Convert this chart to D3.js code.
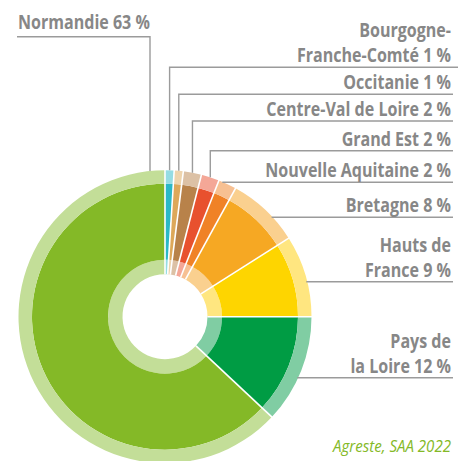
<!DOCTYPE html>
<html><head><meta charset="utf-8">
<script src="https://cdn.jsdelivr.net/npm/d3@7"></script>
<style>
html,body{margin:0;padding:0;background:#fff;}
svg{display:block;}
.lbl{font-family:"Open Sans","DejaVu Sans Condensed",sans-serif;font-weight:700;fill:#878787;font-size:19px;}
.src{font-family:"Open Sans","DejaVu Sans Condensed",sans-serif;font-style:italic;fill:#84b927;font-size:16.5px;}
</style></head>
<body>
<script>
// ---- data ----
const regions = ["Bourgogne-Franche-Comté","Occitanie","Centre-Val de Loire","Grand Est","Nouvelle Aquitaine","Bretagne","Hauts de France","Pays de la Loire","Normandie"];
const shares = [1,1,2,2,2,8,9,12,63];
const labelLines = [["Bourgogne-","Franche-Comté 1 %"],["Occitanie 1 %"],["Centre-Val de Loire 2 %"],["Grand Est 2 %"],["Nouvelle Aquitaine 2 %"],["Bretagne 8 %"],["Hauts de","France 9 %"],["Pays de","la Loire 12 %"],["Normandie 63 %"]];
const darkColors = ["#2bb8c6","#dda85a","#b8824a","#e8512e","#f08226","#f6a823","#fed500","#009c44","#84b927"];
const lightColors = ["#95dce3","#eed4ad","#dcc1a5","#f4a797","#f7c092","#fad08f","#ffe680","#80cda3","#c3de98"];
const source = "Agreste, SAA 2022";

// ---- layout ----
const W=470,H=461;
const cx=165, cy=316.7;
const rHole=42.5, rIn=57, rOut=133, rEdge=146.5;
const leaderY=[67.3,94.3,121,150.7,182.3,217.3,281.7,377.7,36.7];
const leaderKind=["v","v","v","v","h","h","h","h","n"];
const leaderRight=[458,453,453,453,453,453,453,453,453];
const textRight=451, lineGap=25, baseOff=5;
const refLabelWidth=132;   // width of "Normandie 63 %" in reference
const refSourceWidth=118;  // width of source line in reference

const svg=d3.select("body").append("svg").attr("width",W).attr("height",H);
const g=svg.append("g").attr("transform",`translate(${cx},${cy})`);

const pie=d3.pie().sort(null).value(d=>d)(shares);
const arc=(r0,r1)=>d3.arc().innerRadius(r0).outerRadius(r1);
const aInner=arc(rHole,rIn), aMid=arc(rIn,rOut), aOuter=arc(rOut,rEdge);

g.selectAll("path.in").data(pie).join("path").attr("d",aInner).attr("fill",(d,i)=>lightColors[i]);
g.selectAll("path.mid").data(pie).join("path").attr("d",aMid).attr("fill",(d,i)=>darkColors[i]);
g.selectAll("path.out").data(pie).join("path").attr("d",aOuter).attr("fill",(d,i)=>lightColors[i]);

// white separators
g.selectAll("line.sep").data(pie).join("line")
 .attr("x1",d=>rHole*Math.sin(d.startAngle)).attr("y1",d=>-rHole*Math.cos(d.startAngle))
 .attr("x2",d=>(rEdge+1)*Math.sin(d.startAngle)).attr("y2",d=>-(rEdge+1)*Math.cos(d.startAngle))
 .attr("stroke","#fff").attr("stroke-width",1.6);

// leaders
const lg=svg.append("g").attr("fill","none").attr("stroke","#9b9b9b").attr("stroke-width",1.4);
pie.forEach((d,i)=>{
  const y=leaderY[i];
  let pts;
  if(leaderKind[i]==="v"){
    const mid=(d.startAngle+d.endAngle)/2;
    const x=cx+rEdge*Math.sin(mid);
    const y0=cy-Math.sqrt(rEdge*rEdge-(x-cx)*(x-cx));
    pts=[[x,y0],[x,y],[leaderRight[i],y]];
  } else if(leaderKind[i]==="h"){
    const dy=y-cy;
    const x0=cx+Math.sqrt(rEdge*rEdge-dy*dy);
    pts=[[x0-1,y],[leaderRight[i],y]];
  } else {
    const x=150;
    const y0=cy-Math.sqrt(rEdge*rEdge-(x-cx)*(x-cx));
    pts=[[x,y0],[x,y],[17,y]];
  }
  lg.append("path").attr("d",d3.line()(pts));
});

// measure condense factor
const probe=svg.append("text").attr("class","lbl").text(labelLines[8][0]);
const sx=Math.min(1,refLabelWidth/probe.node().getComputedTextLength());
probe.remove();

// labels
labelLines.forEach((lines,i)=>{
  const y=leaderY[i];
  if(leaderKind[i]==="n"){
    svg.append("text").attr("class","lbl")
      .attr("transform",`translate(18,${y-8}) scale(${sx},1)`).text(lines[0]);
  } else {
    const n=lines.length;
    lines.forEach((s,k)=>{
      svg.append("text").attr("class","lbl").attr("text-anchor","end")
        .attr("transform",`translate(${textRight},${y-baseOff-(n-1-k)*lineGap}) scale(${sx},1)`).text(s);
    });
  }
});

const st=svg.append("text").attr("class","src").attr("text-anchor","end").text(source);
const ssx=Math.min(1,refSourceWidth/st.node().getComputedTextLength());
st.attr("transform",`translate(${textRight},451.5) scale(${ssx},1)`);
</script>
</body></html>
